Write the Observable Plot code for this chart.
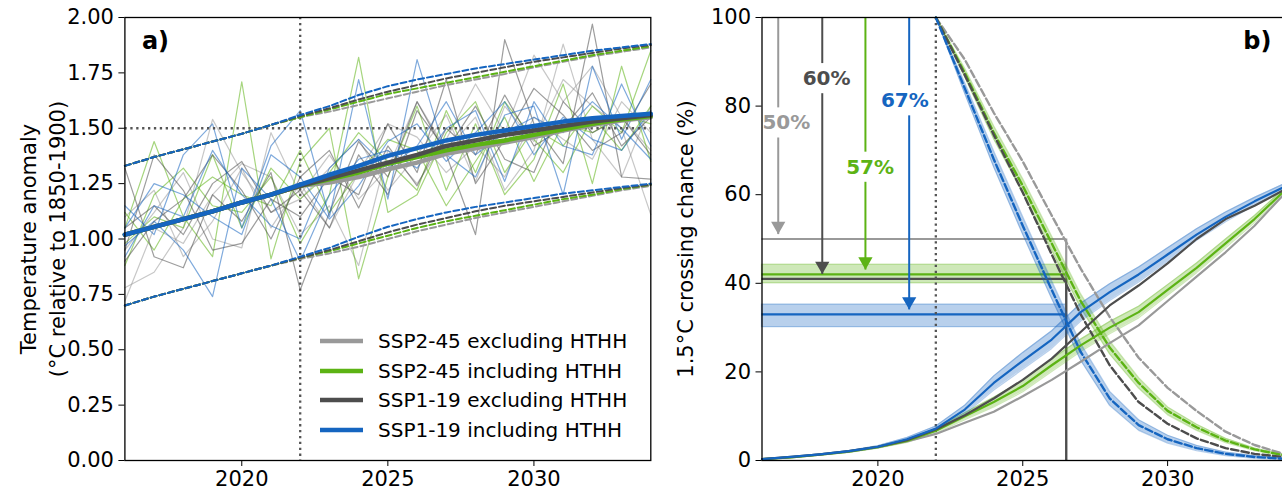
<!DOCTYPE html>
<html><head><meta charset="utf-8">
<script src="https://cdn.jsdelivr.net/npm/d3@7"></script>
<script src="https://cdn.jsdelivr.net/npm/@observablehq/plot@0.6"></script>
<style>
html,body{margin:0;padding:0;background:#fff;overflow:hidden;width:1282px;height:495px;}
#wrap{position:relative;width:1282px;height:495px;overflow:hidden;font-family:"DejaVu Sans",sans-serif;}
#pa{position:absolute;left:0;top:0;width:660px;}
#pb{position:absolute;left:660px;top:0;width:640px;}
#wrap svg{max-width:none !important;}
#legend{position:absolute;left:320px;top:326px;font-size:20px;color:#000;}
#legend .row{display:flex;align-items:center;height:29.7px;white-space:nowrap;}
#legend svg{margin-right:15px;}
</style></head><body>
<div id="wrap"><div id="pa"></div><div id="pb"></div><div id="legend"></div></div>
<script>
// ---------- shared ----------
const years = [2016,2017,2018,2019,2020,2021,2022,2023,2024,2025,2026,2027,2028,2029,2030,2031,2032,2033,2034];
const futureYears = [2022,2023,2024,2025,2026,2027,2028,2029,2030,2031,2032,2033,2034];
const scenarios = ["SSP2-45 excluding HTHH","SSP2-45 including HTHH","SSP1-19 excluding HTHH","SSP1-19 including HTHH"];
const refYear = 2022;
const threshold = 1.5;
const xTicks = [2020,2025,2030];
const yTicksA = [0,0.25,0.5,0.75,1.0,1.25,1.5,1.75,2.0];
const yTicksB = [0,20,40,60,80,100];

// ---------- panel a: ensemble means ----------
const meanEx245 = [1.02,1.055,1.09,1.125,1.165,1.20,1.24,1.255,1.28,1.315,1.345,1.385,1.41,1.435,1.46,1.49,1.515,1.535,1.55];
const meanIn245 = [1.02,1.055,1.09,1.125,1.165,1.20,1.24,1.27,1.30,1.34,1.37,1.40,1.425,1.445,1.47,1.495,1.52,1.54,1.555];
const meanEx119 = [1.02,1.055,1.09,1.125,1.165,1.20,1.24,1.275,1.31,1.345,1.38,1.42,1.445,1.47,1.49,1.51,1.53,1.545,1.56];
const meanIn119 = [1.02,1.055,1.09,1.125,1.165,1.20,1.245,1.29,1.33,1.375,1.41,1.445,1.47,1.49,1.51,1.53,1.545,1.555,1.565];

// ---------- panel a: upper / lower ranges ----------
const upperEx245 = [1.33,1.37,1.405,1.44,1.475,1.515,1.55,1.575,1.605,1.635,1.665,1.695,1.72,1.745,1.775,1.80,1.825,1.845,1.865];
const upperIn245 = [1.33,1.37,1.405,1.44,1.475,1.515,1.55,1.585,1.62,1.655,1.68,1.705,1.73,1.755,1.78,1.805,1.83,1.85,1.87];
const upperEx119 = [1.33,1.37,1.405,1.44,1.475,1.515,1.555,1.59,1.63,1.665,1.695,1.725,1.75,1.775,1.80,1.82,1.84,1.86,1.875];
const upperIn119 = [1.33,1.37,1.405,1.44,1.475,1.515,1.56,1.60,1.65,1.69,1.72,1.745,1.77,1.79,1.81,1.83,1.85,1.865,1.88];
const lowerEx245 = [0.70,0.74,0.775,0.81,0.845,0.88,0.91,0.935,0.965,1.0,1.035,1.065,1.095,1.12,1.145,1.17,1.195,1.22,1.24];
const lowerIn245 = [0.70,0.74,0.775,0.81,0.845,0.88,0.915,0.945,0.98,1.015,1.05,1.08,1.105,1.13,1.155,1.18,1.20,1.225,1.245];
const lowerEx119 = [0.70,0.74,0.775,0.81,0.845,0.88,0.915,0.95,0.99,1.03,1.065,1.095,1.125,1.15,1.17,1.19,1.21,1.23,1.245];
const lowerIn119 = [0.70,0.74,0.775,0.81,0.845,0.88,0.92,0.96,1.01,1.055,1.09,1.12,1.145,1.165,1.185,1.205,1.22,1.235,1.25];

// ---------- panel a: individual members ----------
const ensEx245 = [
 [0.78,0.85,1.05,1.54,1.30,1.12,1.18,1.32,1.45,1.22,1.38,1.56,1.26,1.60,1.44,1.72,1.60,1.50,1.11],
 [0.72,1.05,0.98,1.20,1.34,1.28,1.02,1.15,0.88,1.40,1.25,1.45,1.70,1.48,1.83,1.62,1.78,1.55,1.40],
 [1.10,1.22,0.92,1.08,1.32,1.05,1.25,1.05,1.30,1.52,1.46,1.30,1.42,1.28,1.55,1.45,1.36,1.62,1.48],
 [0.95,1.12,1.30,1.00,0.96,1.48,1.20,1.38,1.18,1.32,1.62,1.40,1.55,1.22,1.40,1.88,1.45,1.28,1.60]];
const ensIn245 = [
 [1.05,1.44,1.10,0.92,1.71,0.91,1.35,1.50,0.82,1.28,1.60,1.22,1.52,1.20,1.36,1.70,1.25,1.78,1.35],
 [0.88,1.20,1.32,1.15,1.12,1.28,0.98,1.20,1.82,1.12,1.20,1.48,1.62,1.30,1.50,1.42,1.60,1.48,1.85],
 [1.12,0.95,1.18,1.28,1.20,1.15,1.40,1.12,1.30,1.45,1.40,1.15,1.35,1.55,1.26,1.52,1.48,1.56,1.52],
 [0.98,1.10,1.05,1.38,1.05,1.32,1.18,1.30,1.48,1.35,1.22,1.58,1.30,1.62,1.45,1.30,1.55,1.40,1.60]];
const ensEx119 = [
 [1.32,0.92,0.87,1.20,1.08,1.30,0.77,1.12,1.44,1.28,1.62,1.38,1.02,1.90,1.52,1.34,1.97,1.28,1.27],
 [0.95,1.38,1.22,0.95,0.98,1.18,1.10,1.28,1.20,1.52,1.30,1.72,1.25,1.45,1.68,1.56,1.40,1.48,1.70],
 [1.05,1.15,1.02,1.25,1.35,1.12,1.22,1.05,1.38,1.20,1.58,1.40,1.60,1.36,1.30,1.62,1.48,1.55,1.38],
 [0.90,1.08,1.18,1.38,1.22,1.00,1.28,1.40,1.14,1.42,1.24,1.50,1.38,1.65,1.42,1.50,1.66,1.42,1.55]];
const ensIn119 = [
 [1.15,1.02,1.38,1.52,1.05,1.42,1.58,1.10,1.72,1.18,1.81,1.38,1.28,1.56,1.60,1.20,1.78,1.45,1.72],
 [0.97,1.08,0.95,0.74,1.32,1.18,0.90,1.20,1.36,1.40,1.32,1.50,1.58,1.26,1.62,1.42,1.38,1.70,1.42],
 [1.05,1.25,1.20,1.10,1.02,1.38,1.28,1.09,1.24,1.44,1.52,1.35,1.48,1.62,1.38,1.55,1.45,1.40,1.58],
 [0.92,1.15,1.10,1.40,1.20,1.06,1.00,1.32,1.45,1.32,1.42,1.62,1.38,1.48,1.55,1.48,1.62,1.50,1.36]];

// ---------- panel b: crossing chance ----------
const probEx245 = [0.3,0.7,1.3,2.0,3.0,4.3,6.0,8.5,11.0,14.5,18.2,22.3,26.5,30.5,36.0,41.5,47.0,53.0,60.0];
const probIn245 = [0.3,0.7,1.3,2.0,3.0,4.4,6.7,10.0,13.2,16.8,21.5,26.0,30.0,33.5,38.5,43.5,49.0,54.5,60.7];
const probEx119 = [0.3,0.8,1.4,2.1,3.1,4.6,7.0,10.2,14.0,18.2,23.0,29.0,35.0,39.5,44.5,50.0,54.5,57.5,61.0];
const probIn119 = [0.3,0.8,1.4,2.1,3.1,4.8,7.2,11.5,17.5,22.5,27.3,33.5,38.0,42.0,46.5,51.0,55.0,58.5,61.7];
const probIn245Err = [0,0.05,0.1,0.15,0.2,0.3,0.5,0.8,1.1,1.3,1.4,1.4,1.4,1.3,1.2,1.1,1.0,0.8,0.6];
const probIn119Err = [0,0.05,0.1,0.15,0.25,0.4,0.6,1.0,1.6,1.9,2.0,2.0,1.9,1.7,1.5,1.3,1.1,0.9,0.7];
// dashed (from 2022)
const remEx245 = [100,90.5,78.5,67.5,55.3,43.3,32.4,23.2,16.4,11.2,6.5,3.5,1.5];
const remIn245 = [100,87.5,74,62,49,36,25.5,17.5,11.2,7.5,4.5,2.5,1.2];
const remEx119 = [100,87,73.5,60.5,46.5,33,21.5,13.2,8.3,5,2.8,1.5,0.8];
const remIn119 = [100,84,68,53,38.5,24.5,14,8,4.8,2.8,1.5,0.8,0.4];
const remIn245Err = [0,1.0,1.5,1.6,1.6,1.6,1.5,1.2,0.9,0.7,0.5,0.3,0.2];
const remIn119Err = [0,1.2,1.8,2.0,2.0,1.9,1.6,1.2,0.9,0.6,0.4,0.3,0.2];

// levels at crossing year
const crossYear = 2026.5;
const levels = [50, 42, 41, 33];          // SSP2-45 ex, SSP2-45 in, SSP1-19 ex, SSP1-19 in
const levelLo = [null, 40, null, 30.1];
const levelHi = [null, 44.2, null, 35.2];
// arrows
const arrowYears = [2016.56, 2018.08, 2019.57, 2021.08];
const arrowTips = [51, 42, 43, 34];
const arrowLabels = ["50%","60%","57%","67%"];
const arrowLabelYears = [2016.84, 2018.23, 2019.73, 2020.93];
const arrowLabelValues = [76.2, 86.2, 66.2, 81.2];
const arrowColorIdx = [0, 2, 1, 3];

// ---------- styles ----------
const colors = ["#999999","#5cb314","#4d4d4d","#1565c0"];
const font = "DejaVu Sans, sans-serif";
const rows = (xs, vs) => xs.map((x,i)=>({x, y: vs[i]}));
const bandRows = (xs, vs, es) => xs.map((x,i)=>({x, y1: vs[i]-es[i], y2: vs[i]+es[i]}));
const dotted = {stroke:"#555", strokeWidth:2.3, strokeDasharray:"2.3,3.6"};

// ---------- panel a ----------
const means = [meanEx245, meanIn245, meanEx119, meanIn119];
const uppers = [upperEx245, upperIn245, upperEx119, upperIn119];
const lowers = [lowerEx245, lowerIn245, lowerEx119, lowerIn119];
const ens = [ensEx245, ensIn245, ensEx119, ensIn119];

const marksA = [];
ens.forEach((group, s) => group.forEach(m => {
  marksA.push(Plot.line(rows(years, m), {x:"x", y:"y", stroke: colors[s], strokeOpacity: 0.55, strokeWidth: 1.2}));
}));
marksA.push(Plot.ruleX([refYear], dotted));
marksA.push(Plot.ruleY([threshold], dotted));
[0,1,2,3].forEach(s => {
  marksA.push(Plot.line(rows(years, uppers[s]), {x:"x", y:"y", stroke: colors[s], strokeWidth:2, strokeDasharray:"6,3"}));
  marksA.push(Plot.line(rows(years, lowers[s]), {x:"x", y:"y", stroke: colors[s], strokeWidth:2, strokeDasharray:"6,3"}));
});
[0,1,2,3].forEach(s => {
  marksA.push(Plot.line(rows(years, means[s]), {x:"x", y:"y", stroke: colors[s], strokeWidth:4.5}));
});
marksA.push(Plot.frame({stroke:"black", strokeWidth:1.3}));
marksA.push(Plot.axisX({ticks: xTicks, tickFormat:"d", tickSize:6, tickPadding:5, label:null, fontSize:21}));
marksA.push(Plot.axisY({ticks: yTicksA, tickFormat:".2f", tickSize:6, tickPadding:5, label:null, fontSize:21}));
marksA.push(Plot.text(["a)"], {text: d=>d, frameAnchor:"top-left", dx:17, dy:14, fontWeight:"bold", fontSize:24, lineAnchor:"top", textAnchor:"start"}));
marksA.push(Plot.text(["Temperature anomaly"], {text: d=>d, frameAnchor:"left", rotate:-90, dx:-96, textAnchor:"middle", lineAnchor:"middle", fontSize:21}));
marksA.push(Plot.text(["(°C relative to 1850-1900)"], {text: d=>d, frameAnchor:"left", rotate:-90, dx:-66.5, textAnchor:"middle", lineAnchor:"middle", fontSize:21}));

const plotA = Plot.plot({
  width: 660, height: 495,
  marginLeft: 124.4, marginRight: 9.7, marginTop: 17, marginBottom: 35,
  x: {domain: [2016, 2034]},
  y: {domain: [0, 2]},
  style: {fontFamily: font, fontSize: "21px", color: "black", background: "transparent", overflow: "visible", maxWidth: "none"},
  marks: marksA
});
document.getElementById("pa").appendChild(plotA);

// ---------- panel b ----------
const probs = [probEx245, probIn245, probEx119, probIn119];
const rems = [remEx245, remIn245, remEx119, remIn119];
const probErr = [null, probIn245Err, null, probIn119Err];
const remErr = [null, remIn245Err, null, remIn119Err];

const marksB = [];
[1,3].forEach(s => {
  const band = [{x1: years[0], x2: crossYear, y1: levelLo[s], y2: levelHi[s]}];
  marksB.push(Plot.rect(band, {x1:"x1", x2:"x2", y1:"y1", y2:"y2", fill: colors[s], fillOpacity:0.3, stroke: colors[s], strokeOpacity:0.35, strokeWidth:1.2}));
});
[0,1,2,3].forEach(s => {
  marksB.push(Plot.ruleY([levels[s]], {x1: years[0], x2: crossYear, stroke: colors[s], strokeWidth:2.2}));
});
marksB.push(Plot.ruleX([crossYear], {y1: 0, y2: levels[0], stroke: colors[0], strokeWidth:2.2}));
marksB.push(Plot.ruleX([crossYear], {y1: 0, y2: levels[2], stroke: colors[2], strokeWidth:2.2}));
const arrowData = arrowYears.map((x,i)=>({x, lx: arrowLabelYears[i], tip: arrowTips[i], lab: arrowLabelValues[i], text: arrowLabels[i], c: colors[arrowColorIdx[i]]}));
const gap = 3.4;
marksB.push(Plot.ruleX(arrowData, {x:"x", y1: () => 100, y2: d => d.lab + gap, stroke: d => d.c, strokeWidth:2}));
marksB.push(Plot.ruleX(arrowData, {x:"x", y1: d => d.lab - gap, y2: "tip", stroke: d => d.c, strokeWidth:2}));
marksB.push(Plot.dot(arrowData, {x:"x", y:"tip", dy:-8.6, symbol:"triangle", rotate:180, r:5.3, fill: d => d.c, stroke:"none"}));
marksB.push(Plot.text(arrowData, {x:"lx", y:"lab", text:"text", fill: d => d.c, fontWeight:"bold", fontSize:20, textAnchor:"middle", lineAnchor:"middle"}));
marksB.push(Plot.ruleX([refYear], dotted));
[1,3].forEach(s => {
  const bp = bandRows(years, probs[s], probErr[s]);
  const br = bandRows(futureYears, rems[s], remErr[s]);
  [bp, br].forEach(b => {
    marksB.push(Plot.areaY(b, {x:"x", y1:"y1", y2:"y2", fill: colors[s], fillOpacity:0.3}));
    marksB.push(Plot.line(b, {x:"x", y:"y1", stroke: colors[s], strokeOpacity:0.3, strokeWidth:1.2}));
    marksB.push(Plot.line(b, {x:"x", y:"y2", stroke: colors[s], strokeOpacity:0.3, strokeWidth:1.2}));
  });
});
[0,1,2,3].forEach(s => {
  marksB.push(Plot.line(rows(futureYears, rems[s]), {x:"x", y:"y", stroke: colors[s], strokeWidth:2.4, strokeDasharray:"7.4,3.2"}));
});
[0,1,2,3].forEach(s => {
  marksB.push(Plot.line(rows(years, probs[s]), {x:"x", y:"y", stroke: colors[s], strokeWidth:2.2}));
});
marksB.push(Plot.frame({stroke:"black", strokeWidth:1.3}));
marksB.push(Plot.axisX({ticks: xTicks, tickFormat:"d", tickSize:6, tickPadding:5, label:null, fontSize:21}));
marksB.push(Plot.axisY({ticks: yTicksB, tickFormat:"d", tickSize:6, tickPadding:5, label:null, fontSize:21}));
marksB.push(Plot.text(["b)"], {text: d=>d, frameAnchor:"top-right", dx:-12, dy:14, fontWeight:"bold", fontSize:24, lineAnchor:"top", textAnchor:"end"}));
marksB.push(Plot.text(["1.5°C crossing chance (%)"], {text: d=>d, frameAnchor:"left", rotate:-90, dx:-75.5, textAnchor:"middle", lineAnchor:"middle", fontSize:21}));

const plotB = Plot.plot({
  width: 640, height: 495,
  marginLeft: 101.5, marginRight: 17, marginTop: 17, marginBottom: 35,
  x: {domain: [2016, 2034]},
  y: {domain: [0, 100]},
  style: {fontFamily: font, fontSize: "21px", color: "black", background: "transparent", overflow: "visible", maxWidth: "none"},
  marks: marksB
});
document.getElementById("pb").appendChild(plotB);

// ---------- legend ----------
const legend = d3.select("#legend");
scenarios.forEach((name, s) => {
  const row = legend.append("div").attr("class","row");
  const svg = row.append("svg").attr("width",43).attr("height",10);
  svg.append("line").attr("x1",0).attr("x2",43).attr("y1",5).attr("y2",5)
     .attr("stroke",colors[s]).attr("stroke-width",4.5);
  row.append("span").text(name);
});
</script>
</body></html>
